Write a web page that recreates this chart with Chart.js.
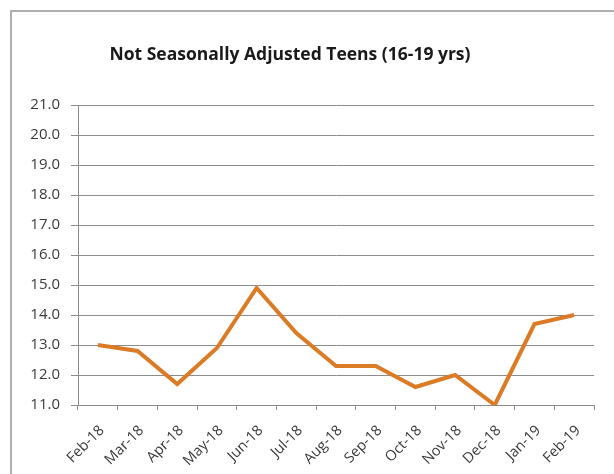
<!DOCTYPE html>
<html>
<head>
<meta charset="utf-8">
<script src="https://cdn.jsdelivr.net/npm/chart.js@4/dist/chart.umd.min.js"></script>
<style>
  html, body { margin: 0; padding: 0; background: #fff; }
  #wrap { position: relative; width: 614px; height: 474px; overflow: hidden; }
  #frame {
    position: absolute; left: 10px; top: 10px; width: 700px; height: 600px;
    border-top: 2px solid #b0b0b0; border-left: 2px solid #b0b0b0;
  }
  canvas { position: absolute; left: 0; top: 0; }
</style>
</head>
<body>
<div id="wrap">
  <div id="frame"></div>
  <canvas id="chart" width="614" height="474"></canvas>
</div>
<script>
// Chart data
const months = ['Feb-18', 'Mar-18', 'Apr-18', 'May-18', 'Jun-18', 'Jul-18', 'Aug-18',
                'Sep-18', 'Oct-18', 'Nov-18', 'Dec-18', 'Jan-19', 'Feb-19'];
const teenRates = [13.0, 12.8, 11.7, 12.9, 14.9, 13.4, 12.3, 12.3, 11.6, 12.0, 11.0, 13.7, 14.0];
const chartTitle = 'Not Seasonally Adjusted Teens (16-19 yrs)';

const gridGray = '#8c8c8c';
const textGray = '#3a3a3a';

// draw the title at a fixed spot, like the original sheet
const titlePlugin = {
    id: 'sheetTitle',
    afterDraw(chart) {
        const ctx = chart.ctx;
        ctx.save();
        ctx.font = 'bold 17.5px "Open Sans"';
        ctx.fillStyle = '#1a1a1a';
        ctx.textAlign = 'center';
        ctx.textBaseline = 'middle';
        ctx.fillText(chartTitle, 290, 55);
        ctx.restore();
    }
};

new Chart(document.getElementById('chart'), {
    type: 'line',
    data: {
        labels: months,
        datasets: [{
            data: teenRates,
            borderColor: '#DB7B25',
            borderWidth: 4,
            pointRadius: 0,
            tension: 0,
            borderJoinStyle: 'miter'
        }]
    },
    options: {
        responsive: false,
        animation: false,
        layout: { padding: { top: 105, right: 20, bottom: 0, left: 0 } },
        plugins: {
            legend: { display: false },
            title: { display: false },
            tooltip: { enabled: false }
        },
        scales: {
            x: {
                offset: true,
                grid: {
                    offset: true,
                    drawOnChartArea: false,
                    drawTicks: true,
                    tickLength: 5,
                    color: gridGray
                },
                border: { display: true, color: gridGray },
                ticks: {
                    autoSkip: false,
                    minRotation: 45,
                    maxRotation: 45,
                    padding: 12,
                    labelOffset: 4,
                    color: textGray,
                    font: { family: 'Open Sans', size: 14.5 }
                },
                afterFit(scale) { scale.height = 69; }
            },
            y: {
                min: 11,
                max: 21,
                grid: {
                    color: gridGray,
                    tickLength: 7
                },
                border: { display: true, color: gridGray },
                ticks: {
                    stepSize: 1,
                    padding: 11,
                    color: textGray,
                    font: { family: 'Open Sans', size: 15 },
                    callback: v => v.toFixed(1)
                },
                afterFit(scale) { scale.width = 78; }
            }
        }
    },
    plugins: [titlePlugin]
});
</script>
</body>
</html>
